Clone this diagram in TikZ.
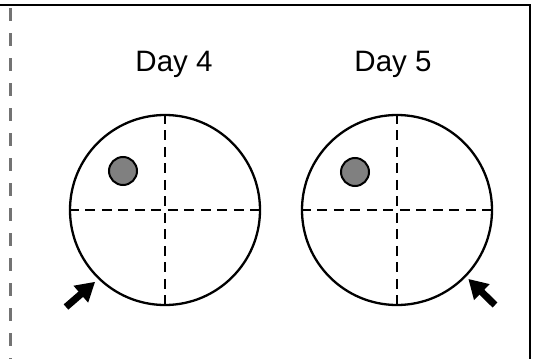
\documentclass[tikz,border=0pt]{standalone}
\usepackage{fontspec}
\setmainfont{Liberation Sans}
\usetikzlibrary{arrows.meta,positioning}

\begin{document}
\begin{tikzpicture}[
  x=1pt, y=-1pt,
  dish/.style={
    draw,
    circle,
    line width=2.3pt,
    minimum size=190pt,
    inner sep=0pt,
  },
  grid/.style={line width=2.5pt, dash pattern=on 10pt off 6.5pt},
  spot/.style={
    draw,
    circle,
    line width=2pt,
    fill=black!50,
    minimum size=28pt,
    inner sep=0pt,
  },
  day/.style={font=\fontsize{29.5}{34}\selectfont},
  pointer/.style={-{Triangle[width=21pt,length=19pt]}, line width=7pt},
]
\useasboundingbox (0,0) rectangle (544,359);

% frame
\draw[line width=2.2pt] (0,5) -- (530,5) -- (530,359);
\draw[black!55, line width=3pt, dash pattern=on 13pt off 12pt] (10,8) -- (10,359);

\node[dish] (d4) at (165,210) {};
\node[dish] (d5) at (397,210) {};

\draw[grid] (d4.west) -- (d4.east);
\draw[grid] (d4.north) -- (d4.south);
\draw[grid] (d5.west) -- (d5.east);
\draw[grid] (d5.north) -- (d5.south);

\node[day, above=33pt of d4, xshift=9pt] (lab4) {Day 4};
\node[day, above=33pt of d5, xshift=-4pt] (lab5) {Day 5};

\node[spot] (s4) at (123,171) {};
\node[spot] (s5) at (355,172) {};

\coordinate (t4) at (66,307);
\coordinate (t5) at (495,305);
\draw[pointer, shorten >=4pt] (t4) -- (d4.226);
\draw[pointer, shorten >=3pt] (t5) -- (d5.316);

\end{tikzpicture}
\end{document}
